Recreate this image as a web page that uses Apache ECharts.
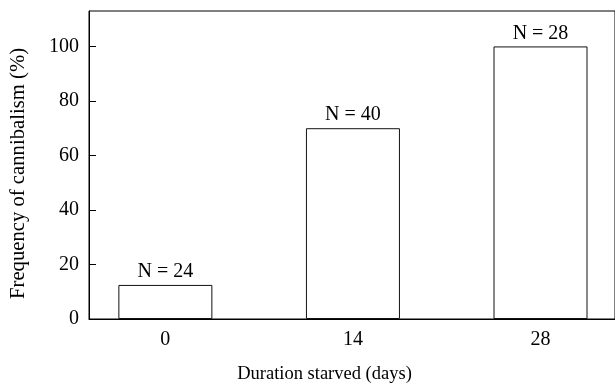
<!DOCTYPE html>
<html>
<head>
<meta charset="utf-8">
<script src="https://cdn.jsdelivr.net/npm/echarts@6/dist/echarts.min.js"></script>
<style>
  html, body { margin: 0; padding: 0; background: #fff; }
  #chart { width: 615px; height: 389px; }
</style>
</head>
<body>
<div id="chart"></div>
<script>
// 数据
const days = [0, 14, 28]
const freq = [12.5, 70, 100]
const nLabels = ['N = 24', 'N = 40', 'N = 28']
const yTicks = [0, 20, 40, 60, 80, 100]

const font = 'Liberation Serif'
const chart = echarts.init(document.getElementById('chart'))

const option = {
  backgroundColor: '#fff',
  animation: false,
  grid: {
    left: 88,
    right: -3,
    top: 11,
    bottom: 69,
    show: true,
    borderColor: '#000',
    borderWidth: 1
  },
  xAxis: {
    type: 'value',
    min: -5.7,
    max: 33.56,
    name: 'Duration starved (days)',
    nameLocation: 'middle',
    nameGap: 46,
    nameTextStyle: { fontFamily: font, fontSize: 18.5, color: '#000', padding: [0, 55, 0, 0] },
    axisLine: { show: true, onZero: false, lineStyle: { color: '#000', width: 1 } },
    axisTick: { show: false },
    splitLine: { show: false },
    axisLabel: {
      customValues: days,
      margin: 11,
      fontFamily: font,
      fontSize: 20,
      color: '#000'
    }
  },
  yAxis: {
    type: 'value',
    min: 0,
    max: 113,
    name: 'Frequency of cannibalism (%)',
    nameLocation: 'middle',
    nameGap: 60,
    nameTextStyle: { fontFamily: font, fontSize: 20.7, color: '#000', padding: [0, 17, 0, 0] },
    axisLine: { show: true, onZero: false, lineStyle: { color: '#000', width: 1 } },
    axisTick: { show: true, inside: true, length: 7, customValues: yTicks, lineStyle: { color: '#000' } },
    splitLine: { show: false },
    axisLabel: {
      customValues: yTicks,
      margin: 10,
      fontFamily: font,
      fontSize: 20,
      color: '#000'
    }
  },
  series: [
    {
      type: 'bar',
      data: days.map((d, i) => [d, freq[i]]),
      barWidth: 94,
      itemStyle: { color: '#fff', borderColor: '#111', borderWidth: 1 },
      label: {
        show: true,
        position: 'top',
        distance: 3,
        fontFamily: font,
        fontSize: 20,
        color: '#000',
        formatter: (p) => nLabels[p.dataIndex]
      }
    }
  ]
}

chart.setOption(option)
</script>
</body>
</html>
